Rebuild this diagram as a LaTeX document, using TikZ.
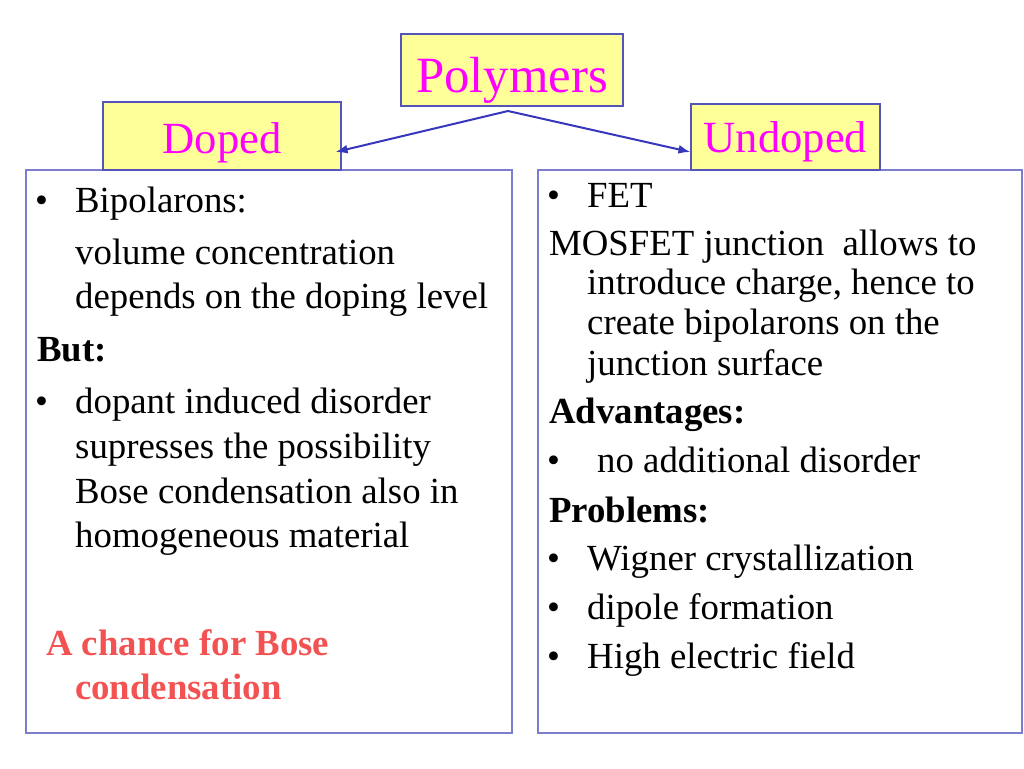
\documentclass[tikz,border=0pt]{standalone}
\usepackage{fontspec}
\setmainfont{Liberation Serif}
\usetikzlibrary{arrows.meta}
\definecolor{boxyellow}{RGB}{255,255,153}
\definecolor{boxline}{RGB}{85,85,185}
\definecolor{frameline}{RGB}{125,125,205}
\definecolor{arrowblue}{RGB}{55,55,190}
\definecolor{titlepink}{RGB}{255,0,255}
\definecolor{chance}{RGB}{242,82,82}
\tikzset{
  title/.style={draw=boxline, line width=1.2pt, fill=boxyellow, text=titlepink, inner sep=0, text depth=0pt},
  frame/.style={draw=frameline, line width=1.5pt, fill=white},
  txt/.style={anchor=base west, inner sep=0, font=\fontsize{36.8}{44}\selectfont},
  bold/.style={txt, font=\fontsize{36.8}{44}\selectfont\bfseries},
  link/.style={arrowblue, line width=2pt, -{Latex[length=12pt,width=9pt]}}
}
\begin{document}
\begin{tikzpicture}[x=1pt,y=-1pt]
        \useasboundingbox (0,0) rectangle (1024,768);
        % Frames
        \draw[frame] (26,170) rectangle (512,733);
        \draw[frame] (538,170) rectangle (1022,733);
        % Titles
        \node[title, minimum width=222, minimum height=72, text height=44pt, font=\fontsize{50.8}{60}\selectfont]
          (polymers) at (512,70) {Polymers};
        \node[title, minimum width=238, minimum height=68, text height=34pt, font=\fontsize{44.6}{54}\selectfont]
          (doped) at (222,136) {Doped};
        \node[title, minimum width=189, minimum height=66, text height=30pt, font=\fontsize{44.6}{54}\selectfont]
          (undoped) at (785.5,137) {Undoped};

        % Arrows
        \coordinate (split) at (508,111);
        \draw[link] (split) -- ([shift={(-6,16)}]doped.east);
        \draw[link] (split) -- ([shift={(0,15)}]undoped.west);

        % Left frame
        \node[txt] (b1) at (35,212) {\textbullet};
        \node[txt] (b2) at (35,413) {\textbullet};
        \foreach \y/\t [count=\i] in {212/Bipolarons:, 264/volume concentration,
          308/depends on the doping level, 413/dopant induced disorder,
          458/supresses the possibility, 503/Bose condensation also in,
          547/homogeneous material}
        {
          \node[txt] (l\i) at (75,\y) {\t};
        }
        \node[bold] (but) at (37,361) {But:};
        \node[bold, text=chance] (chance1) at (46,655) {A chance for Bose};
        \node[bold, text=chance] (chance2) at (75,699) {condensation};

        % Right frame
        \foreach \y [count=\i] in {207,472,570,619,668}
        {
          \node[txt] (c\i) at (547,\y) {\textbullet};
        }
        \node[txt] (fet) at (587,207) {FET};
        \node[txt] (mos) at (549,255) {MOSFET junction\ \ allows to};
        \foreach \y/\t [count=\i] in {294/{introduce charge, hence to},
          334/create bipolarons on the, 375/junction surface,
          570/Wigner crystallization, 619/dipole formation, 668/High electric field}
        {
          \node[txt] (r\i) at (587,\y) {\t};
        }
        \node[txt] (noadd) at (597,472) {no additional disorder};
        \node[bold] (adv) at (549,423) {Advantages:};
        \node[bold] (prob) at (549,522) {Problems:};
    \end{tikzpicture}
\end{document}
